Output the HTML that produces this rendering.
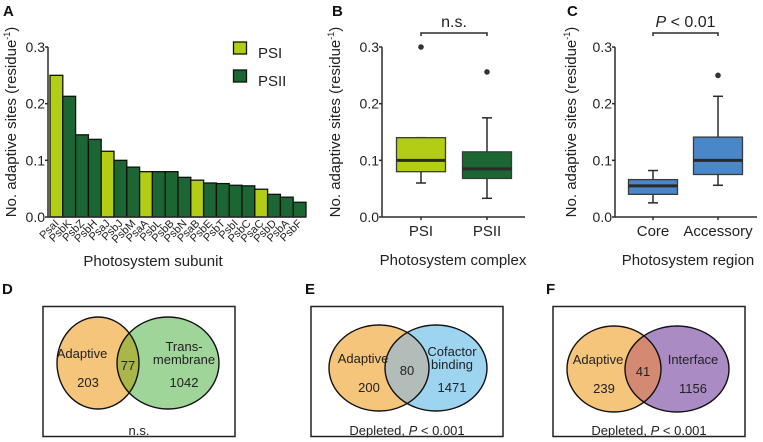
<!DOCTYPE html>
<html><head><meta charset="utf-8"><style>
html,body{margin:0;padding:0;background:#fff;}
svg{display:block;font-family:"Liberation Sans",sans-serif;}
</style></head><body>
<svg id="fig" width="763" height="442" viewBox="0 0 763 442"></svg>
<script>
// Panel A data
const aCats = ["PsaI","PsbK","PsbZ","PsbH","PsaJ","PsbJ","PsbM","PsaA","PsbL","PsbB","PsbN","PsaB","PsbE","PsbT","PsbI","PsbC","PsaC","PsbD","PsbA","PsbF"];
const aVals = [0.25,0.213,0.145,0.137,0.116,0.1,0.088,0.08,0.08,0.08,0.07,0.065,0.06,0.059,0.056,0.055,0.049,0.04,0.035,0.026];
const aGroup = ["PSI","PSII","PSII","PSII","PSI","PSII","PSII","PSI","PSII","PSII","PSII","PSI","PSII","PSII","PSII","PSII","PSI","PSII","PSII","PSII"];
const yTicks = [0.0,0.1,0.2,0.3];
const yTickLabels = ["0.0","0.1","0.2","0.3"];
// Panel B data: [min, q1, median, q3, max]
const bCats = ["PSI","PSII"];
const bStats = [[0.06,0.08,0.1,0.14,0.14],[0.033,0.068,0.085,0.115,0.175]];
const bOutliers = [[0.3],[0.256]];
// Panel C data
const cCats = ["Core","Accessory"];
const cStats = [[0.025,0.04,0.055,0.066,0.082],[0.056,0.075,0.1,0.141,0.213]];
const cOutliers = [[],[0.25]];
// Venn data
const dCounts = [203,77,1042];
const eCounts = [200,80,1471];
const fCounts = [239,41,1156];

const NS="http://www.w3.org/2000/svg";
const svg=document.getElementById('fig');
function mk(tag,attrs,parent,text){const e=document.createElementNS(NS,tag);for(const k in attrs)e.setAttribute(k,attrs[k]);if(text!==undefined)e.textContent=text;(parent||svg).appendChild(e);return e;}
const PSI="#b3cc14",PSII="#1b6633",DARK="#2b2b2b";

function yScale(top,bottom){return v=>bottom-(v/0.3)*(bottom-top);}

function panelLabel(t,x,y){const e=mk('text',{x:x,y:y,'font-size':15,'font-weight':'bold',fill:'#111'},svg,t);

}

function yAxis(g,ax,top,bottom,labelX,nameSuffix){
  const y=yScale(top,bottom);
  const l=mk('line',{x1:ax,y1:top,x2:ax,y2:bottom,stroke:DARK,'stroke-width':1.5},g);
  
  
  yTicks.forEach((t,i)=>{
    mk('line',{x1:ax-3,y1:y(t),x2:ax,y2:y(t),stroke:DARK,'stroke-width':1.5},g);
    const tl=mk('text',{x:ax-3,y:y(t)+5,'font-size':14,'text-anchor':'end',fill:'#222'},g,yTickLabels[i]);
    
    
  });
  const cy=(top+bottom)/2-10;
  const tt=mk('text',{x:labelX,y:cy,'font-size':15,'text-anchor':'middle',fill:'#222',transform:'rotate(-90 '+labelX+' '+cy+')'},g);
  
  
  mk('tspan',{},tt,'No. adaptive sites (residue');
  mk('tspan',{'font-size':9,dy:-6},tt,'-1');
  mk('tspan',{dy:6},tt,')');
  return y;
}

// ---------- Panel A ----------
panelLabel('A',3,16);
const gA=mk('g',{});


const yA=yAxis(gA,48,47,217,16,'a');
const bw=12.8,x0=50;
aVals.forEach((v,i)=>{
  const r=mk('rect',{x:x0+i*bw,y:yA(v),width:bw,height:217-yA(v),fill:aGroup[i]==="PSI"?PSI:PSII,stroke:'#111','stroke-width':1.3},gA);
  
  
  const cx=x0+i*bw+bw/2+3, cy=224;
  const t=mk('text',{x:cx,y:cy,'font-size':11,'text-anchor':'end',fill:'#222',transform:'rotate(-45 '+cx+' '+cy+')'},gA,aCats[i]);
  
  
});
mk('line',{x1:48,y1:217,x2:x0+aVals.length*bw,y2:217,stroke:DARK,'stroke-width':1.5},gA);
const axt=mk('text',{x:153,y:266,'font-size':15,'text-anchor':'middle',fill:'#222'},gA,'Photosystem subunit');


// legend
[["PSI",PSI,42,53],["PSII",PSII,70,81]].forEach(d=>{
  const s=mk('rect',{x:233.5,y:d[2],width:13,height:12,fill:d[1],stroke:'#111','stroke-width':1.3},gA);
  
  
  const t=mk('text',{x:258,y:d[3]+5,'font-size':15,fill:'#222'},gA,d[0]);
  
  
});

// ---------- Box plots ----------
function boxPanel(name,ax,axEnd,centers,stats,outs,cats,colors,title,titleX,sigText,sigItalic,labelX){
  const g=mk('g',{});
  
  
  const y=yAxis(g,ax,47,217,labelX,name);
  mk('line',{x1:ax,y1:217,x2:axEnd,y2:217,stroke:DARK,'stroke-width':1.5},g);
  const hw=24.5;
  stats.forEach((s,i)=>{
    const c=centers[i];
    mk('line',{x1:c,y1:y(s[0]),x2:c,y2:y(s[1]),stroke:DARK,'stroke-width':1.5},g);
    mk('line',{x1:c,y1:y(s[3]),x2:c,y2:y(s[4]),stroke:DARK,'stroke-width':1.5},g);
    mk('line',{x1:c-5,y1:y(s[0]),x2:c+5,y2:y(s[0]),stroke:DARK,'stroke-width':1.5},g);
    mk('line',{x1:c-5,y1:y(s[4]),x2:c+5,y2:y(s[4]),stroke:DARK,'stroke-width':1.5},g);
    const b=mk('rect',{x:c-hw,y:y(s[3]),width:2*hw,height:y(s[1])-y(s[3]),fill:colors[i],stroke:'#3a3a3a','stroke-width':1.3},g);
    
    
    mk('line',{x1:c-hw,y1:y(s[2]),x2:c+hw,y2:y(s[2]),stroke:'#2a2a2a','stroke-width':3},g);
    outs[i].forEach(o=>{
      const p=mk('circle',{cx:c,cy:y(o),r:2.8,fill:'#333'},g);
      
      
    });
    const t=mk('text',{x:c,y:236,'font-size':15,'text-anchor':'middle',fill:'#222'},g,cats[i]);
    
    
    mk('line',{x1:c,y1:217,x2:c,y2:220,stroke:DARK,'stroke-width':1.5},g);
  });
  const at=mk('text',{x:titleX,y:265,'font-size':15,'text-anchor':'middle',fill:'#222'},g,title);
  
  
  const br=mk('path',{d:`M${centers[0]} 36 V33 H${centers[1]} V36`,fill:'none',stroke:DARK,'stroke-width':1.5},g);
  
  
  const st=mk('text',{x:(centers[0]+centers[1])/2,y:27,'font-size':16,'text-anchor':'middle',fill:'#222'},g);
  
  
  if(sigItalic){mk('tspan',{'font-style':'italic'},st,'P');mk('tspan',{},st,' < 0.01');}
  else st.textContent=sigText;
}
panelLabel('B',332,16);
boxPanel('b',382,525,[421,487],bStats,bOutliers,bCats,[PSI,PSII],'Photosystem complex',453,'n.s.',false,340);
panelLabel('C',567,16);
boxPanel('c',615,757,[653,718],cStats,cOutliers,cCats,['#4a87c9','#4a87c9'],'Photosystem region',688,'',true,576);

// ---------- Venns ----------
function venn(name,bx,L,R,lensColor,lc,rc,counts,rightLabel,bottom){
  const g=mk('g',{});
  
  
  const box=mk('rect',{x:bx,y:306.5,width:192,height:130,fill:'#fff',stroke:'#222','stroke-width':1.5},g);
  
  
  const id='clip'+name;
  const cp=mk('clipPath',{id:id},g);
  mk('ellipse',{cx:L[0],cy:L[1],rx:L[2],ry:L[3]},cp);
  const e1=mk('ellipse',{cx:L[0],cy:L[1],rx:L[2],ry:L[3],fill:lc},g);
  
  
  const e2=mk('ellipse',{cx:R[0],cy:R[1],rx:R[2],ry:R[3],fill:rc},g);
  
  
  mk('ellipse',{cx:R[0],cy:R[1],rx:R[2],ry:R[3],fill:lensColor,'clip-path':'url(#'+id+')'},g);
  mk('ellipse',{cx:L[0],cy:L[1],rx:L[2],ry:L[3],fill:'none',stroke:'#111','stroke-width':1.4},g);
  mk('ellipse',{cx:R[0],cy:R[1],rx:R[2],ry:R[3],fill:'none',stroke:'#111','stroke-width':1.4},g);
  const fs=13;
  const T=(x,y,s,n)=>{const t=mk('text',{x:x,y:y,'font-size':fs,'text-anchor':'middle',fill:'#222'},g,s);return t;};
  T(L[0]-16,L[1]-5,'Adaptive','label-adaptive');
  T(L[0]-10,L[1]+24,String(counts[0]),'count-adaptive-only');
  const lensX=(L[0]+L[2]+R[0]-R[2])/2;
  T(lensX,L[1]+7,String(counts[1]),'count-overlap');
  rightLabel.forEach((s,i)=>T(R[0]+16,R[1]-5-(rightLabel.length-1)*13+i*13+(rightLabel.length>1?6:0),s,'label-category'));
  T(R[0]+16,R[1]+24,String(counts[2]),'count-category-only');
  const bt=mk('text',{x:bx+96,y:435,'font-size':13,'text-anchor':'middle',fill:'#222'},g);
  
  
  if(bottom==='ns') bt.textContent='n.s.';
  else {mk('tspan',{},bt,'Depleted, ');mk('tspan',{'font-style':'italic'},bt,'P');mk('tspan',{},bt,' < 0.001');}
}
panelLabel('D',2,294);
venn('d',43,[98,363,41,46],[168,363,51,46],'#a8b64a','#f6c57c','#9fd598',dCounts,['Trans-','membrane'],'ns');
panelLabel('E',305,294);
venn('e',311,[379,368,50,43],[436,368,51,43],'#b2bdb9','#f6c57c','#9dd4f0',eCounts,['Cofactor','binding'],'dep');
panelLabel('F',546,294);
venn('f',553,[614,369,47,43],[677,369,52,43],'#d48a72','#f6c57c','#aa8bc4',fCounts,['Interface'],'dep');
</script>
</body></html>
